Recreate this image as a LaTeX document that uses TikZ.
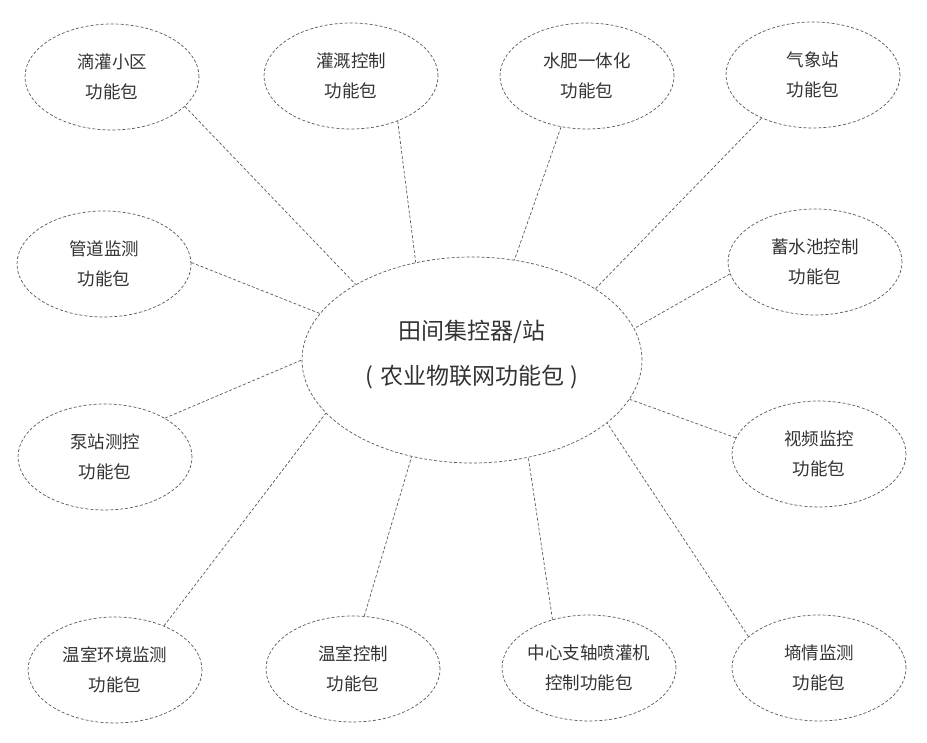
\documentclass[tikz,border=0pt]{standalone}
\usepackage{fontspec}
\setmainfont{Noto Sans CJK SC}
\usetikzlibrary{shapes.geometric}
\tikzset{
  pkg/.style={ellipse, draw=black!65, dash pattern=on 3pt off 2pt, line width=0.7pt,
    minimum width=174pt, minimum height=106pt, inner sep=0pt, align=center,
    text=black!80, font=\fontsize{17.5pt}{30pt}\selectfont},
  hub/.style={ellipse, draw=black!65, dash pattern=on 3pt off 2pt, line width=0.7pt,
    minimum width=340pt, minimum height=206pt, inner sep=0pt, align=center,
    text=black!80, font=\fontsize{23pt}{45pt}\selectfont},
  link/.style={draw=black!65, dash pattern=on 3pt off 2pt, line width=0.7pt}
}
\begin{document}
\begin{tikzpicture}[x=1pt,y=-1pt]
\useasboundingbox (0,0) rectangle (927,743);
\node[hub] (c) at (472,360) {田间集控器/站\\(\hspace{0.3em}农业物联网功能包\hspace{0.3em})\\[-30pt]\mbox{}};
\node[pkg] (p1) at (112,77) {滴灌小区\\功能包};
\node[pkg] (p2) at (351,76) {灌溉控制\\功能包};
\node[pkg] (p3) at (587,76) {水肥一体化\\功能包};
\node[pkg] (p4) at (813,75) {气象站\\功能包};
\node[pkg] (p5) at (104,264) {管道监测\\功能包};
\node[pkg] (p6) at (815,262) {蓄水池控制\\功能包};
\node[pkg] (p7) at (105,457) {泵站测控\\功能包};
\node[pkg] (p8) at (819,454) {视频监控\\功能包};
\node[pkg] (p9) at (115,670) {温室环境监测\\功能包};
\node[pkg] (p10) at (353,669) {温室控制\\功能包};
\node[pkg] (p11) at (589,668) {中心支轴喷灌机\\控制功能包};
\node[pkg] (p12) at (819,668) {墒情监测\\功能包};
\draw[link] (p1.-22.5) -- (c.147.2);
\draw[link] (p2.-44.4) -- (c.120);
\draw[link] (p3.243.4) -- (c.67.7);
\draw[link] (p4.220.7) -- (c.30.8);
\draw[link] (p5.1.3) -- (c.163.9);
\draw[link] (p6.188.7) -- (c.11.1);
\draw[link] (p7.33.5) -- (c.180.7);
\draw[link] (p8.169.2) -- (c.-14.5);
\draw[link] (p9.42.6) -- (c.200.1);
\draw[link] (p10.78.3) -- (c.238.9);
\draw[link] (p11.127.1) -- (c.-60.6);
\draw[link] (p12.156.4) -- (c.-25.1);
\end{tikzpicture}
\end{document}
